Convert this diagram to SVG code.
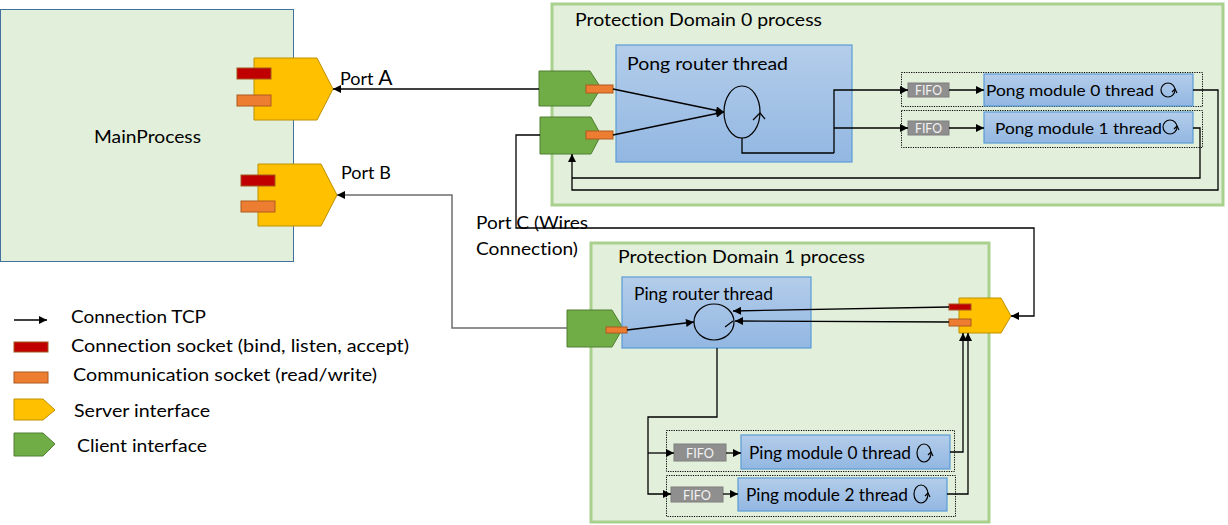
<svg xmlns="http://www.w3.org/2000/svg" width="1228" height="525" viewBox="0 0 1228 525">
<style>
text{font-family:Lato,"Liberation Sans",sans-serif;fill:#000;font-variant-ligatures:none}
.cont{fill:#E2EFDA;stroke:#A9D18E;stroke-width:3}
.thr{fill:url(#bg);stroke:#5B9BD5;stroke-width:1.2}
.srv{fill:#FFC000;stroke:#BF9000;stroke-width:1}
.cli{fill:#70AD47;stroke:#507E32;stroke-width:1}
.red{fill:#C00000;stroke:#A5571F;stroke-width:1}
.org{fill:#ED7D31;stroke:#AE5A21;stroke-width:1}
.fifo{fill:#8F8F8F;stroke:#7F7F7F;stroke-width:1}
.ft{font-size:13.5px;fill:#F2F2F2;text-anchor:middle}
.dot{fill:none;stroke:#000;stroke-width:1;stroke-dasharray:1.2 1.2}
.ln{fill:none;stroke:#000;stroke-width:1.3}
.gl{fill:none;stroke:#6E6E6E;stroke-width:1.5}
.ic{fill:none;stroke:#000;stroke-width:1.2}
</style>
<defs>
<linearGradient id="bg" x1="0" y1="0" x2="0" y2="1">
<stop offset="0" stop-color="#B4CDEA"/>
<stop offset="1" stop-color="#92B7E2"/>
</linearGradient>
<marker id="ah" viewBox="0 0 10 10" refX="10" refY="5" markerWidth="9" markerHeight="8" markerUnits="userSpaceOnUse" orient="auto">
<path d="M0,0 L10,5 L0,10 z" fill="#000"/>
</marker>
</defs>

<g id="main-process">
<rect x="0.5" y="9.5" width="293" height="252" fill="#E2EFDA" stroke="#41719C" stroke-width="1"/>
<text x="94" y="143" font-size="18" textLength="107" lengthAdjust="spacingAndGlyphs">MainProcess</text>
</g>

<g id="server-a">
<polygon class="srv" points="254,58 317,58 333,89 317,120 254,120"/>
<rect class="red" x="237" y="68" width="34" height="11"/>
<rect class="org" x="237" y="95" width="34" height="11"/>
</g>
<g id="server-b">
<polygon class="srv" points="258,164 321,164 337,195 321,226 258,226"/>
<rect class="red" x="241" y="175" width="34" height="11"/>
<rect class="org" x="241" y="201" width="34" height="11"/>
</g>

<g id="pd0">
<rect class="cont" x="552" y="4" width="671" height="201"/>
<text x="575" y="26" font-size="18" textLength="247" lengthAdjust="spacingAndGlyphs">Protection Domain 0 process</text>
</g>

<g id="pd1">
<rect class="cont" x="591" y="243" width="398" height="279"/>
<text x="618" y="263" font-size="18" textLength="247" lengthAdjust="spacingAndGlyphs">Protection Domain 1 process</text>
</g>

<g id="pd0-client-1">
<polygon class="cli" points="539,71 590,71 601,88 590,106 539,106"/>
<rect class="org" x="586" y="85" width="27" height="8"/>
</g>
<g id="pd0-client-2">
<polygon class="cli" points="540,117 591,117 601,135 591,154 540,154"/>
<rect class="org" x="586" y="131" width="27" height="8"/>
</g>

<g id="pong-router">
<rect class="thr" x="616" y="45" width="236" height="117"/>
<text x="627" y="70" font-size="18" textLength="161" lengthAdjust="spacingAndGlyphs">Pong router thread</text>
<ellipse class="ic" cx="742" cy="112" rx="18" ry="26"/>
<path class="ic" d="M753,120 L760,113 L765,119" stroke-width="1"/>
</g>

<g id="pong-module-0">
<rect class="dot" x="901.5" y="72.5" width="301" height="34"/>
<rect class="fifo" x="908" y="83" width="41" height="14"/>
<text class="ft" x="928.5" y="95" textLength="27" lengthAdjust="spacingAndGlyphs">FIFO</text>
<rect class="thr" x="984" y="74" width="209" height="32"/>
<text x="986" y="96" font-size="16" textLength="168" lengthAdjust="spacingAndGlyphs">Pong module 0 thread</text>
<circle class="ic" cx="1168" cy="90" r="7"/>
<path class="ic" d="M1172,92 L1175,89 L1177,93" stroke-width="1"/>
</g>
<g id="pong-module-1">
<rect class="dot" x="901.5" y="110.5" width="301" height="37"/>
<rect class="fifo" x="908" y="121" width="41" height="14"/>
<text class="ft" x="928.5" y="133" textLength="27" lengthAdjust="spacingAndGlyphs">FIFO</text>
<rect class="thr" x="984" y="112" width="209" height="31"/>
<text x="995" y="134" font-size="16" textLength="167" lengthAdjust="spacingAndGlyphs">Pong module 1 thread</text>
<circle class="ic" cx="1170" cy="127" r="7"/>
<path class="ic" d="M1174,129 L1177,126 L1179,130" stroke-width="1"/>
</g>

<g id="pd1-client">
<polygon class="cli" points="567,310 612,310 623,328 612,347 567,347"/>
</g>

<g id="ping-router">
<rect class="thr" x="622" y="277" width="189" height="71"/>
<text x="634" y="300" font-size="17" textLength="139" lengthAdjust="spacingAndGlyphs">Ping router thread</text>
<ellipse class="ic" cx="714" cy="322" rx="20" ry="18"/>
<path class="ic" d="M725,327 L733,321" stroke-width="1"/>
<rect class="org" x="606" y="327" width="21" height="6"/>
</g>

<g id="pd1-server">
<polygon class="srv" points="959,298 1001,298 1011,316 1001,333 959,333"/>
<rect class="red" x="949" y="304" width="22" height="6"/>
<rect class="org" x="949" y="319" width="22" height="7"/>
</g>

<g id="ping-module-0">
<rect class="dot" x="666.5" y="430.5" width="288" height="41"/>
<rect class="fifo" x="674" y="444" width="52" height="17"/>
<text class="ft" x="700" y="457.5" textLength="28" lengthAdjust="spacingAndGlyphs">FIFO</text>
<rect class="thr" x="741" y="435" width="209" height="34"/>
<text x="749" y="459" font-size="17" textLength="162" lengthAdjust="spacingAndGlyphs">Ping module 0 thread</text>
<ellipse class="ic" cx="924" cy="453" rx="7" ry="9"/>
<path class="ic" d="M928,455 L931,452 L933,456" stroke-width="1"/>
</g>
<g id="ping-module-2">
<rect class="dot" x="666.5" y="475.5" width="289" height="41"/>
<rect class="fifo" x="671" y="487" width="52" height="15"/>
<text class="ft" x="697" y="499.5" textLength="28" lengthAdjust="spacingAndGlyphs">FIFO</text>
<rect class="thr" x="738" y="478" width="209" height="33"/>
<text x="746" y="501" font-size="17" textLength="162" lengthAdjust="spacingAndGlyphs">Ping module 2 thread</text>
<ellipse class="ic" cx="921" cy="494" rx="7" ry="9"/>
<path class="ic" d="M925,496 L928,493 L930,497" stroke-width="1"/>
</g>

<g id="labels">
<text x="340" y="85" font-size="18">Port <tspan font-size="21">A</tspan></text>
<text x="341" y="179" font-size="18">Port B</text>
<text x="476" y="229" font-size="18" textLength="112" lengthAdjust="spacingAndGlyphs">Port C (Wires</text>
<text x="476" y="255" font-size="18" textLength="102" lengthAdjust="spacingAndGlyphs">Connection)</text>
</g>

<g id="connectors">
<path class="ln" d="M539,89 H333" marker-end="url(#ah)"/>
<path class="gl" d="M567,328 H452 V195 H337" marker-end="url(#ah)"/>
<path class="ln" d="M540,135 H516 V228 H1034 V316 H1011" marker-end="url(#ah)"/>
<path class="ln" d="M613,89 L724,112" marker-end="url(#ah)"/>
<path class="ln" d="M613,135 L724,112" marker-end="url(#ah)"/>
<path class="ln" d="M742,138 V153 H834" stroke-width="2.5" stroke="#333"/>
<path class="ln" d="M834,153 V90 H908" marker-end="url(#ah)"/>
<path class="ln" d="M834,128 H908" marker-end="url(#ah)"/>
<path class="ln" d="M949,90 H984" stroke="#555" marker-end="url(#ah)"/>
<path class="ln" d="M949,128 H984" stroke="#555" marker-end="url(#ah)"/>
<path class="ln" d="M1193,90 H1218 V190 H572 V154" marker-end="url(#ah)"/>
<path class="ln" d="M1193,128 H1200 V178 H572" stroke="#444"/>
<path class="ln" d="M627,330 L694,322" marker-end="url(#ah)"/>
<path class="ln" d="M949,307 L733,311" marker-end="url(#ah)"/>
<path class="ln" d="M949,322 L735,321" marker-end="url(#ah)"/>
<path class="ln" d="M717,348 V417 H648 V494 H671" marker-end="url(#ah)"/>
<path class="ln" d="M648,453 H674" marker-end="url(#ah)"/>
<path class="ln" d="M726,453 H741" marker-end="url(#ah)"/>
<path class="ln" d="M723,494 H738" marker-end="url(#ah)"/>
<path class="ln" d="M950,452 H963 V333" marker-end="url(#ah)"/>
<path class="ln" d="M947,494 H968 V333" marker-end="url(#ah)"/>
</g>

<g id="legend">
<path class="ln" d="M14,320 H47" marker-end="url(#ah)"/>
<text x="71" y="323" font-size="18" textLength="135" lengthAdjust="spacingAndGlyphs">Connection TCP</text>
<rect class="red" x="14" y="342" width="34" height="10"/>
<text x="71" y="352" font-size="18" textLength="338" lengthAdjust="spacingAndGlyphs">Connection socket (bind, listen, accept)</text>
<rect class="org" x="14" y="372" width="34" height="11"/>
<text x="73" y="381" font-size="18" textLength="304" lengthAdjust="spacingAndGlyphs">Communication socket (read/write)</text>
<polygon class="srv" points="14,399 43,399 55,410 43,420 14,420"/>
<text x="74" y="417" font-size="18" textLength="136" lengthAdjust="spacingAndGlyphs">Server interface</text>
<polygon class="cli" points="14,433 43,433 55,444 43,456 14,456"/>
<text x="77" y="452" font-size="18" textLength="130" lengthAdjust="spacingAndGlyphs">Client interface</text>
</g>
</svg>
